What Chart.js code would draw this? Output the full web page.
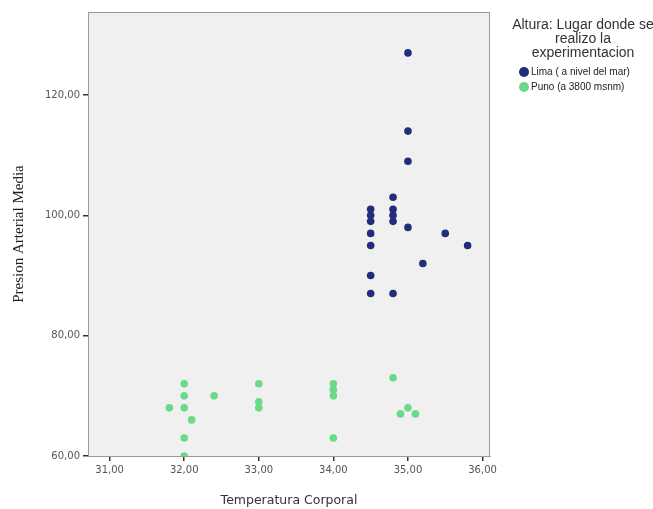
<!DOCTYPE html>
<html>
<head>
<meta charset="utf-8">
<script src="https://cdn.jsdelivr.net/npm/chart.js@4"></script>
<style>
  html, body { margin: 0; padding: 0; background: #fff; }
  #wrap { width: 653px; height: 509px; }
</style>
</head>
<body>
<div id="wrap"><canvas id="chart" width="653" height="509"></canvas></div>
<script>
const xTicks = [31, 32, 33, 34, 35, 36];
const yTicks = [60, 80, 100, 120];

const limaLabel = 'Lima ( a nivel del mar)';
const limaTemp = [35.0, 35.0, 35.0, 34.8, 34.5, 34.5, 34.5, 34.8, 34.8, 34.8, 34.5, 34.5, 35.0, 35.5, 35.8, 35.2, 34.5, 34.5, 34.8];
const limaPam  = [127, 114, 109, 103, 101, 100, 99, 101, 100, 99, 97, 95, 98, 97, 95, 92, 90, 87, 87];

const punoLabel = 'Puno (a 3800 msnm)';
const punoTemp = [32.0, 32.0, 32.4, 31.8, 32.0, 32.1, 32.0, 32.0, 33.0, 33.0, 33.0, 34.0, 34.0, 34.0, 34.0, 34.8, 34.9, 35.0, 35.1];
const punoPam  = [72, 70, 70, 68, 68, 66, 63, 60, 72, 69, 68, 72, 71, 70, 63, 73, 67, 68, 67];

const legendTitle = ['Altura: Lugar donde se', 'realizo la', 'experimentacion'];

function toPoints(xs, ys) {
    return xs.map((x, i) => ({ x: x, y: ys[i] }));
}

function fmt(v) {
    return Number(v).toFixed(2).replace('.', ',');
}

// grey plot background and frame
const plotFrame = {
    id: 'plotFrame',
    beforeDatasetsDraw(chart) {
        const a = chart.chartArea;
        const ctx = chart.ctx;
        ctx.save();
        ctx.fillStyle = '#f0f0f0';
        ctx.fillRect(a.left, a.top, a.right - a.left, a.bottom - a.top);
        ctx.strokeStyle = '#9a9a9a';
        ctx.lineWidth = 1;
        ctx.strokeRect(a.left + 0.5, a.top + 0.5, a.right - a.left - 1, a.bottom - a.top);
        ctx.restore();
    }
};

// legend at the right, like the SPSS output
const sideLegend = {
    id: 'sideLegend',
    afterDraw(chart) {
        const ctx = chart.ctx;
        ctx.save();
        ctx.fillStyle = '#333';
        ctx.font = '14px "Liberation Sans", Arial, sans-serif';
        ctx.textAlign = 'center';
        ctx.textBaseline = 'middle';
        const tops = [25, 39, 53];
        legendTitle.forEach((line, i) => ctx.fillText(line, 583, tops[i]));

        ctx.textAlign = 'left';
        ctx.font = '10px "Liberation Sans", Arial, sans-serif';
        const rows = [72, 87];
        chart.data.datasets.forEach((ds, i) => {
            ctx.beginPath();
            ctx.arc(524, rows[i], 5, 0, Math.PI * 2);
            ctx.fillStyle = ds.backgroundColor;
            ctx.fill();
            ctx.fillStyle = '#222';
            ctx.fillText(ds.label, 531, rows[i]);
        });
        ctx.restore();
    }
};

const ctx = document.getElementById('chart').getContext('2d');
const chart = new Chart(ctx, {
    type: 'scatter',
    data: {
        datasets: [{
            label: limaLabel,
            data: toPoints(limaTemp, limaPam),
            backgroundColor: '#212d7c',
            borderColor: '#212d7c',
            pointRadius: 3.8,
            pointBorderWidth: 0
        }, {
            label: punoLabel,
            data: toPoints(punoTemp, punoPam),
            backgroundColor: '#6ad98a',
            borderColor: '#6ad98a',
            pointRadius: 3.8,
            pointBorderWidth: 0
        }]
    },
    options: {
        responsive: false,
        animation: false,
        layout: {
            padding: { left: 0, top: 12, right: 163, bottom: 0 }
        },
        plugins: {
            legend: { display: false },
            tooltip: { enabled: false }
        },
        scales: {
            x: {
                type: 'linear',
                min: 30.71,
                max: 36.1,
                afterBuildTicks: function(scale) {
                    scale.ticks = xTicks.map(v => ({ value: v }));
                },
                afterFit: function(scale) {
                    scale.height = 53;
                },
                ticks: {
                    callback: fmt,
                    color: '#555',
                    padding: 3,
                    maxRotation: 0,
                    font: { family: '"DejaVu Sans", Verdana, sans-serif', size: 10 }
                },
                grid: {
                    drawOnChartArea: false,
                    drawTicks: true,
                    tickLength: 5,
                    color: '#333',
                    lineWidth: 1.5
                },
                border: { display: true, color: '#555' },
                title: {
                    display: true,
                    text: 'Temperatura Corporal',
                    color: '#333',
                    padding: { top: 0, bottom: 1 },
                    font: { family: '"DejaVu Sans", Verdana, sans-serif', size: 12.5 }
                }
            },
            y: {
                type: 'linear',
                min: 60,
                max: 133.8,
                afterBuildTicks: function(scale) {
                    scale.ticks = yTicks.map(v => ({ value: v }));
                },
                afterFit: function(scale) {
                    scale.width = 88;
                },
                ticks: {
                    callback: fmt,
                    color: '#555',
                    padding: 3,
                    font: { family: '"DejaVu Sans", Verdana, sans-serif', size: 10 }
                },
                grid: {
                    drawOnChartArea: false,
                    drawTicks: true,
                    tickLength: 5,
                    color: '#333',
                    lineWidth: 1.5
                },
                border: { display: true, color: '#555' },
                title: {
                    display: true,
                    text: 'Presion Arterial Media',
                    color: '#222',
                    padding: { top: 10, bottom: 0 },
                    font: { family: '"Liberation Serif", "Times New Roman", serif', size: 15 }
                }
            }
        }
    },
    plugins: [plotFrame, sideLegend]
});
</script>
</body>
</html>
